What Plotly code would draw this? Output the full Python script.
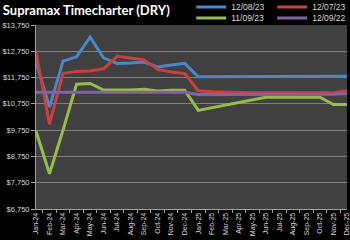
import plotly.graph_objects as go

months = ["Jan-24","Feb-24","Mar-24","Apr-24","May-24","Jun-24","Jul-24","Aug-24","Sep-24","Oct-24","Nov-24","Dec-24",
          "Jan-25","Feb-25","Mar-25","Apr-25","May-25","Jun-25","Jul-25","Aug-25","Sep-25","Oct-25","Nov-25","Dec-25"]

s_120823 = [12350, 10625, 12375, 12540, 13290, 12500, 12290, 12300, 12340, 12150, 12225, 12290,
            11780, 11780, 11780, 11780, 11780, 11780, 11780, 11780, 11785, 11790, 11795, 11800]
s_120723 = [12725, 9975, 11910, 11985, 12000, 12085, 12560, 12500, 12425, 12060, 11960, 11900,
            11250, 11210, 11190, 11180, 11175, 11170, 11170, 11170, 11175, 11175, 11175, 11250]
s_110923 = [9710, 8090, 9750, 11500, 11525, 11275, 11275, 11275, 11310, 11240, 11265, 11265,
            10500, 10600, 10700, 10800, 10900, 11000, 11000, 11000, 11000, 11000, 10725, 10725]
s_120922 = [11190, 11190, 11190, 11190, 11190, 11190, 11190, 11190, 11190, 11190, 11190, 11190,
            11110, 11110, 11110, 11110, 11110, 11110, 11110, 11110, 11110, 11110, 11120, 11140]

series = [("12/08/23", s_120823, "#4a86c8", "legend"),
          ("12/07/23", s_120723, "#c9403f", "legend"),
          ("11/09/23", s_110923, "#98bb4a", "legend2"),
          ("12/09/22", s_120922, "#8064a2", "legend2")]

yticks = [6750, 7750, 8750, 9750, 10750, 11750, 12750, 13750]

fig = go.Figure()
for name, vals, col, lg in series:
    fig.add_trace(go.Scatter(x=months, y=vals, name=name, mode="lines", legend=lg,
                             line=dict(color=col, width=3)))

legend_common = dict(orientation="h", xanchor="right", yanchor="middle",
                     xref="paper", yref="paper",
                     font=dict(family="Liberation Sans", size=8.5, color="#d9d9d9"),
                     bgcolor="rgba(0,0,0,0)", traceorder="normal",
                     entrywidth=36, itemwidth=30, tracegroupgap=0)

fig.update_layout(
    width=350, height=240,
    margin=dict(l=36, r=3, t=25, b=31, autoexpand=False),
    paper_bgcolor="black", plot_bgcolor="#404040",
    title=dict(text="<b>Supramax Timecharter (DRY)</b>", x=0.008, xanchor="left", y=0.955, yanchor="middle",
               font=dict(family="Lato", size=13, color="white")),
    legend=dict(x=1.02, y=1.098, **legend_common),
    legend2=dict(x=1.02, y=1.038, **legend_common),
    showlegend=True,
)
fig.update_xaxes(type="category", tickangle=-90, tickson="boundaries", ticks="outside", ticklen=3,
                 tickcolor="#a0a0a0", showgrid=False, showline=True, linecolor="#a0a0a0",
                 tickfont=dict(family="Liberation Sans", size=7, color="#d9d9d9"), automargin=False)
fig.update_yaxes(range=[6750, 13750], tickvals=yticks, ticktext=[f"${v:,}" for v in yticks],
                 showgrid=True, gridcolor="#7f7f7f", gridwidth=1, ticks="outside", ticklen=4,
                 tickcolor="#a0a0a0", showline=True, linecolor="#a0a0a0", zeroline=False,
                 tickfont=dict(family="Liberation Sans", size=7.5, color="#d9d9d9"), automargin=False)

fig.write_html("out.html")
